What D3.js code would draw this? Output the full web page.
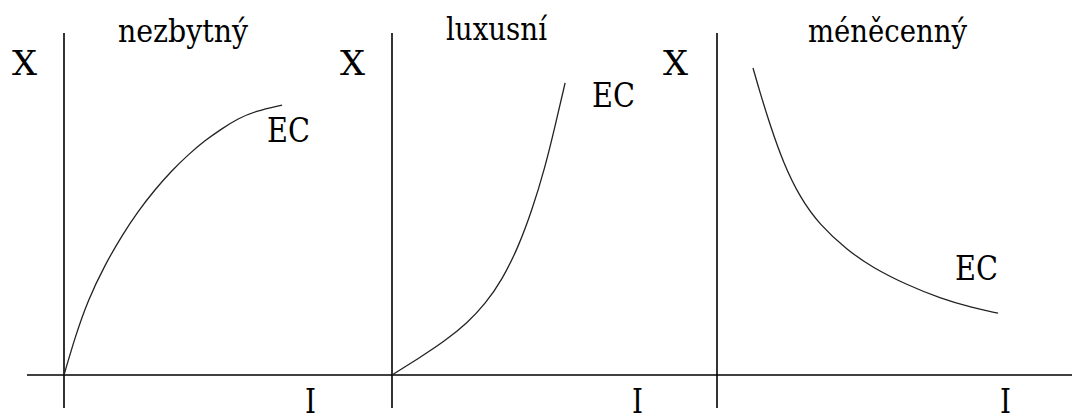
<!DOCTYPE html>
<html>
<head>
<meta charset="utf-8">
<script src="https://cdn.jsdelivr.net/npm/d3@7"></script>
<style>
  body { margin: 0; background: #fff; }
</style>
</head>
<body>
<div id="chart"></div>
<script>
// panel titles (Engelovy křivky)
const titles = ["nezbytný", "luxusní", "méněcenný"];

// EC curves, I on x, X on y (units)
const necessary = [[0,0],[0.37,1.12],[0.8,2.21],[1.37,3.25],[1.93,4.1],[2.47,4.82],[3.03,5.45],
  [3.6,6.02],[4.13,6.47],[4.7,6.9],[5.27,7.25],[5.8,7.54],[6.37,7.76],[7.27,7.94]];
const luxury = [[0,0],[0.87,0.48],[1.77,1.0],[2.53,1.55],[3.1,2.08],[3.67,2.8],[4.2,3.74],
  [4.67,4.85],[5.1,6.1],[5.43,7.3],[5.77,8.59]];
const inferior = [[1.2,9.03],[1.43,8.32],[1.77,7.35],[2.2,6.26],[2.77,5.21],[3.43,4.41],[4.33,3.68],
  [5.2,3.15],[6.33,2.65],[7.43,2.26],[8.53,1.97],[9.37,1.82]];
const curves = [necessary, luxury, inferior];

const width = 1072, height = 416;
const origins = [64, 392, 717];
const serif = '"DejaVu Serif", "Liberation Serif", serif';

const svg = d3.select("#chart").append("svg")
    .attr("width", width)
    .attr("height", height)
    .style("font-family", serif);

const yScale = d3.scaleLinear().domain([0, 10]).range([375, 35]);

// horizontal axis shared by all three panels
svg.append("line")
    .attr("x1", 27).attr("x2", width)
    .attr("y1", yScale(0)).attr("y2", yScale(0))
    .attr("stroke", "#000").attr("stroke-width", 1.6);

// label offsets from the panel origin, plus the width each title takes in the picture
const labelPos = [
  {x: [-52, 241], ec: [203, 142], t: [54, 42], tw: 130},
  {x: [-52, 240], ec: [200, 107], t: [54, 40], tw: 101},
  {x: [-54, 283], ec: [238, 280], t: [91, 42], tw: 159}
];

origins.forEach((x0, i) => {
  const xScale = d3.scaleLinear().domain([0, 10]).range([x0, x0 + 300]);
  const g = svg.append("g");
  const lp = labelPos[i];

  // vertical axis
  g.append("line")
      .attr("x1", xScale(0)).attr("x2", xScale(0))
      .attr("y1", yScale(-0.97)).attr("y2", yScale(10.06))
      .attr("stroke", "#000").attr("stroke-width", 1.6);

  const line = d3.line()
      .x(d => xScale(d[0]))
      .y(d => yScale(d[1]))
      .curve(d3.curveBasis);

  g.append("path")
      .datum(curves[i])
      .attr("d", line)
      .attr("fill", "none")
      .attr("stroke", "#222")
      .attr("stroke-width", 1.3);

  const txt = (x, y, s, w, size) => g.append("text")
      .attr("x", x).attr("y", y)
      .attr("font-family", serif)
      .attr("font-size", size)
      .attr("fill", "#000")
      .attr("textLength", w)
      .attr("lengthAdjust", "spacingAndGlyphs")
      .text(s);

  txt(x0 + lp.t[0], lp.t[1], titles[i], lp.tw, 32);
  txt(x0 + lp.x[0], 75, "X", 25, 34);
  txt(x0 + lp.x[1], 413, "I", 11, 34);
  txt(x0 + lp.ec[0], lp.ec[1], "EC", 43, 34);
});
</script>
</body>
</html>
